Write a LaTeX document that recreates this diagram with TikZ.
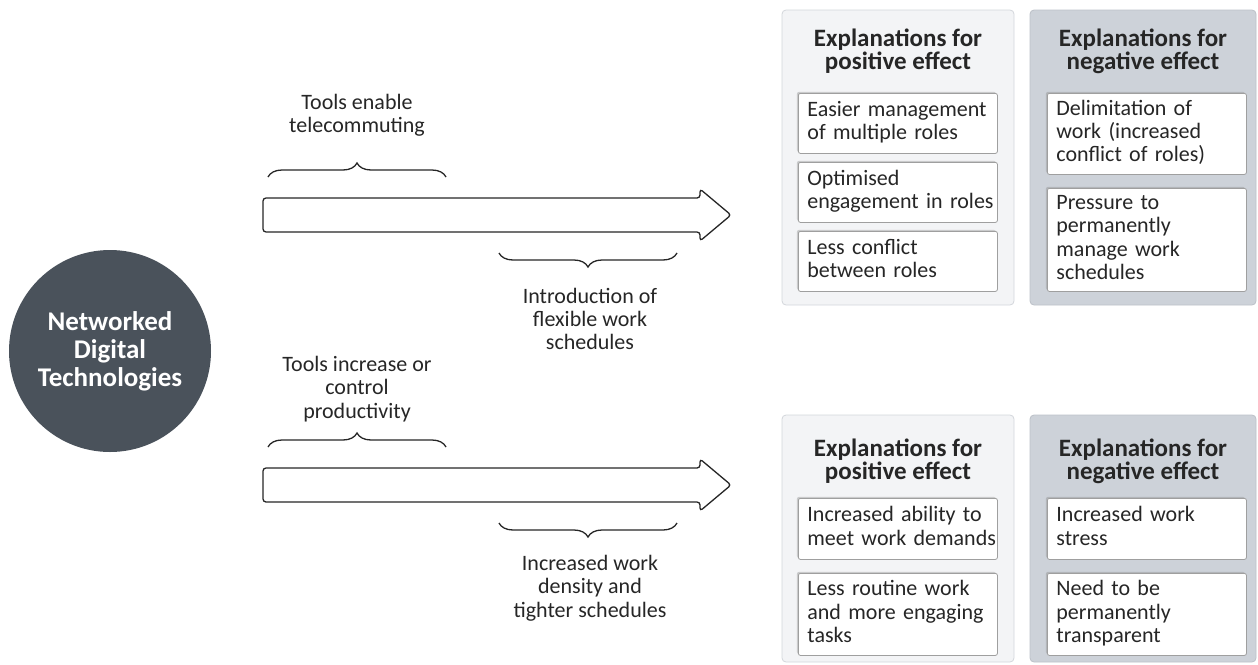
\documentclass[tikz,border=0pt]{standalone}
\usepackage{fontspec}
\setmainfont{Carlito}
\usetikzlibrary{decorations.pathreplacing,shadows}

\definecolor{txt}{HTML}{262626}
\definecolor{disc}{HTML}{4A525B}
\definecolor{posfill}{HTML}{F3F4F6}
\definecolor{posline}{HTML}{D3D6DB}
\definecolor{negfill}{HTML}{CDD2D9}
\definecolor{negline}{HTML}{BCC1C8}

% keeps the given line breaks, never wraps
\newcommand{\boxlines}[1]{\begin{tabular}{@{}l@{}}#1\end{tabular}}

\tikzset{
    body/.style={font=\fontsize{22}{23.3}\selectfont, text=txt},
    note/.style={body, align=center},
    paneltitle/.style={font=\fontsize{25}{23.3}\selectfont\bfseries, text=txt, align=center},
    panel/.style={rounded corners=4pt, line width=0.8pt},
    item/.style={body, draw=gray!75, line width=0.8pt, fill=white, rounded corners=2pt,
        anchor=north west, text width=181pt, inner xsep=9pt, inner ysep=0pt, align=left,
        drop shadow={shadow xshift=-1.5pt, shadow yshift=1.5pt, opacity=.35}},
    bigarrow/.style={draw=txt, line width=1.3pt, rounded corners=3pt, fill=white},
    curly/.style={draw=txt, line width=1.3pt, decorate, decoration={brace, amplitude=14pt}},
}

\begin{document}
\begin{tikzpicture}[x=1pt, y=-1pt]
    \useasboundingbox (0,0) rectangle (1258,664);

    % source of both effects
    \node[circle, fill=disc, minimum size=202pt, inner sep=0pt, text=white, align=center,
        font=\fontsize{27}{28}\selectfont\bfseries] (ndt) at (110,351) {Networked\\Digital\\Technologies};

    % upper path: telecommuting / flexible schedules
    \draw[bigarrow] (263,198) -- (700,198) -- (700,189) -- (731,215) -- (700,241) -- (700,232) -- (263,232) -- cycle;
    \coordinate (tl1) at (268,177);
    \coordinate (tr1) at (446,177);
    \coordinate (bl1) at (499,253);
    \coordinate (br1) at (677,253);
    \draw[curly] (tl1) -- (tr1);
    \draw[curly] (br1) -- (bl1);
    \node[note] (tele) at (357,115.5) {Tools enable\\telecommuting};
    \node[note] (flex) at (590,319) {Introduction of\\flexible work\\schedules};

    % lower path: productivity / density
    \draw[bigarrow] (263,468) -- (700,468) -- (700,459) -- (731,485) -- (700,511) -- (700,502) -- (263,502) -- cycle;
    \coordinate (tl2) at (268,447);
    \coordinate (tr2) at (446,447);
    \coordinate (bl2) at (499,523);
    \coordinate (br2) at (677,523);
    \draw[curly] (tl2) -- (tr2);
    \draw[curly] (br2) -- (bl2);
    \node[note] (prod) at (357,389) {Tools increase or\\control\\productivity};
    \node[note] (dens) at (590,588) {Increased work\\density and\\tighter schedules};

    % upper explanations
    \draw[panel, fill=posfill, draw=posline] (782,10) rectangle (1014,305);
    \draw[panel, fill=negfill, draw=negline] (1030,10) rectangle (1256,305);
    \node[paneltitle] (pos1) at (898,51.5) {Explanations for\\positive effect};
    \node[paneltitle] (neg1) at (1143,51.5) {Explanations for\\negative effect};
    \node[item, minimum height=60pt] (pa) at (798,93) {\boxlines{Easier management\\of multiple roles}};
    \node[item, minimum height=60pt] (pb) at (798,162) {\boxlines{Optimised\\engagement in roles}};
    \node[item, minimum height=60pt] (pc) at (798,231) {\boxlines{Less conflict\\between roles}};
    \node[item, minimum height=81pt] (na) at (1047,93) {\boxlines{Delimitation of\\work (increased\\conflict of roles)}};
    \node[item, minimum height=103pt] (nb) at (1047,188) {\boxlines{Pressure to\\permanently\\manage work\\schedules}};

    % lower explanations
    \draw[panel, fill=posfill, draw=posline] (782,415) rectangle (1014,662);
    \draw[panel, fill=negfill, draw=negline] (1030,415) rectangle (1256,662);
    \node[paneltitle] (pos2) at (898,461) {Explanations for\\positive effect};
    \node[paneltitle] (neg2) at (1143,461) {Explanations for\\negative effect};
    \node[item, minimum height=61pt] (pd) at (798,498) {\boxlines{Increased ability to\\meet work demands}};
    \node[item, minimum height=82pt] (pe) at (798,573) {\boxlines{Less routine work\\and more engaging\\tasks}};
    \node[item, minimum height=61pt] (nc) at (1047,498) {\boxlines{Increased work\\stress}};
    \node[item, minimum height=82pt] (nd) at (1047,573) {\boxlines{Need to be\\permanently\\transparent}};
\end{tikzpicture}
\end{document}
